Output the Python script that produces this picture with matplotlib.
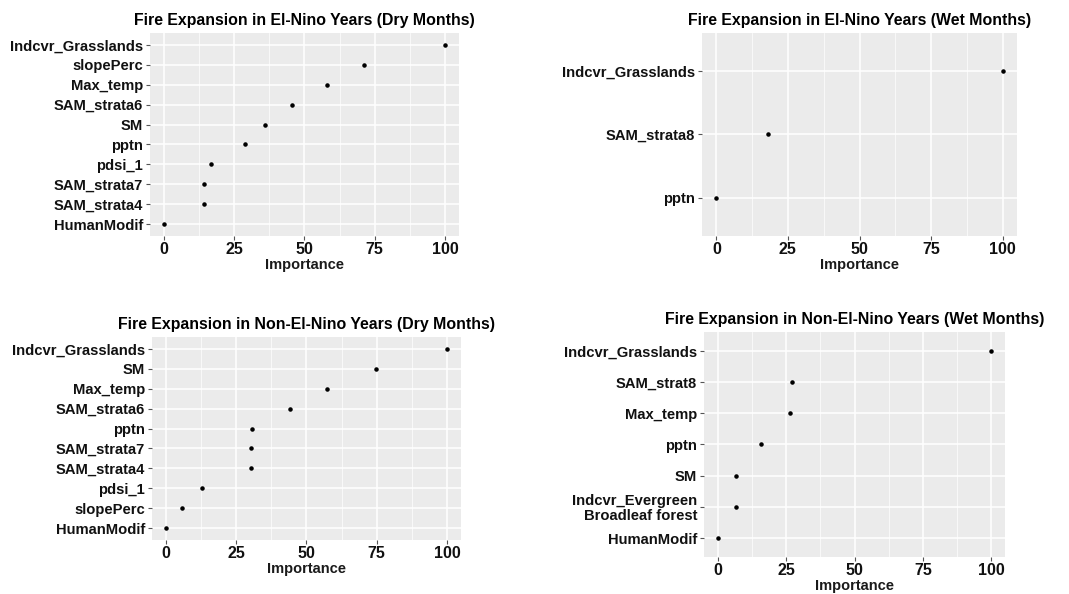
import numpy as np
import matplotlib.pyplot as plt
from matplotlib.ticker import MultipleLocator

plt.rcParams['font.family'] = ['Liberation Sans', 'DejaVu Sans']
plt.rcParams['font.weight'] = 'bold'

# variable importance, listed bottom to top
dry_elnino_vars = ['HumanModif', 'SAM_strata4', 'SAM_strata7', 'pdsi_1', 'pptn',
                   'SM', 'SAM_strata6', 'Max_temp', 'slopePerc', 'Indcvr_Grasslands']
dry_elnino_imp = [0, 14.4, 14.4, 16.6, 28.7, 36.0, 45.6, 58.2, 71.3, 100]

wet_elnino_vars = ['pptn', 'SAM_strata8', 'Indcvr_Grasslands']
wet_elnino_imp = [0, 17.9, 100]

dry_non_vars = ['HumanModif', 'slopePerc', 'pdsi_1', 'SAM_strata4', 'SAM_strata7',
                'pptn', 'SAM_strata6', 'Max_temp', 'SM', 'Indcvr_Grasslands']
dry_non_imp = [0, 5.6, 12.8, 30.1, 30.1, 30.7, 44.0, 57.2, 74.7, 100]

wet_non_vars = ['HumanModif', 'Indcvr_Evergreen\nBroadleaf forest', 'SM', 'pptn',
                'Max_temp', 'SAM_strat8', 'Indcvr_Grasslands']
wet_non_imp = [0, 6.5, 6.5, 15.9, 26.3, 27.0, 100]

titles = ['Fire Expansion in El-Nino Years (Dry Months)',
          'Fire Expansion in El-Nino Years (Wet Months)',
          'Fire Expansion in Non-El-Nino Years (Dry Months)',
          'Fire Expansion in Non-El-Nino Years (Wet Months)']


def importance_panel(fig, rect, names, values, title):
    ax = fig.add_axes(rect)
    ax.set_facecolor('#EBEBEB')
    y = np.arange(1, len(names) + 1)
    ax.scatter(values, y, s=5, color='black', zorder=3)
    ax.set_xlim(-5, 105)
    ax.set_ylim(0.4, len(names) + 0.6)
    ax.set_yticks(y)
    ax.set_yticklabels(names, fontsize=10.6, fontweight='bold', color='#111111',
                       linespacing=1.05)
    ax.xaxis.set_major_locator(MultipleLocator(25))
    ax.xaxis.set_minor_locator(MultipleLocator(12.5))
    ax.tick_params(axis='x', which='major', labelsize=11.5, length=3, pad=1,
                   color='#555555', labelcolor='#111111')
    ax.tick_params(axis='x', which='minor', length=0)
    ax.tick_params(axis='y', length=3, pad=2, color='#555555')
    for lab in ax.get_xticklabels():
        lab.set_fontweight('bold')
    ax.grid(True, which='major', color='white', linewidth=1.1)
    ax.grid(True, which='minor', axis='x', color='white', linewidth=0.5)
    ax.set_axisbelow(True)
    for sp in ax.spines.values():
        sp.set_visible(False)
    ax.set_xlabel('Importance', fontsize=10.5, fontweight='bold', color='#1a1a1a', labelpad=1)
    ax.set_title(title, fontsize=11.4, fontweight='bold', pad=6)
    return ax


fig = plt.figure(figsize=(10.69, 5.94), dpi=100)
importance_panel(fig, [0.1403, 0.6027, 0.289, 0.3418], dry_elnino_vars, dry_elnino_imp, titles[0])
importance_panel(fig, [0.6567, 0.6027, 0.2947, 0.3418], wet_elnino_vars, wet_elnino_imp, titles[1])
importance_panel(fig, [0.1422, 0.0909, 0.289, 0.3418], dry_non_vars, dry_non_imp, titles[2])
importance_panel(fig, [0.6586, 0.0623, 0.2816, 0.3788], wet_non_vars, wet_non_imp, titles[3])

fig.savefig('out.png', dpi=100)
